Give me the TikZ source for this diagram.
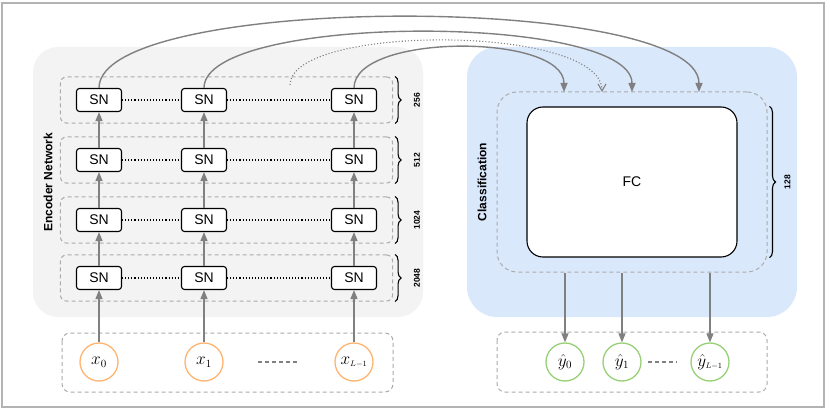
\documentclass[tikz,border=0pt]{standalone}
\usepackage{fontspec}
\setmainfont{Liberation Sans}
\usetikzlibrary{arrows.meta,decorations.pathreplacing,fit,positioning}

\definecolor{encgray}{HTML}{F3F3F3}
\definecolor{clsblue}{HTML}{DAE8FC}
\definecolor{xorange}{HTML}{FFB570}
\definecolor{ygreen}{HTML}{97D077}
\definecolor{dashgray}{HTML}{ABABAB}
\definecolor{arrgray}{HTML}{808080}
\definecolor{framegray}{HTML}{B3B3B3}

\tikzset{
    sn/.style={draw, line width=1.1pt, rounded corners=3pt, fill=white,
        minimum width=45pt, minimum height=23pt, inner sep=0pt,
        font=\fontsize{14}{16}\selectfont},
    fcbox/.style={draw, line width=1.1pt, rounded corners=16pt, fill=white,
        minimum width=210pt, minimum height=150pt,
        font=\fontsize{14}{16}\selectfont},
    layerbox/.style={draw=dashgray, line width=1pt, dash pattern=on 4pt off 3pt,
        rounded corners=6pt},
    xnode/.style={circle, draw=xorange, line width=1.3pt, fill=white,
        minimum size=38pt, inner sep=0pt, font=\fontsize{16}{18}\selectfont},
    ynode/.style={circle, draw=ygreen, line width=1.3pt, fill=white,
        minimum size=38pt, inner sep=0pt, font=\fontsize{16}{18}\selectfont},
    flow/.style={draw=arrgray, line width=1.4pt, -{Triangle[length=9pt,width=7pt]}},
    link/.style={line width=1.1pt, dotted},
    gap/.style={draw=arrgray, line width=1.2pt, dash pattern=on 4pt off 3pt},
    sizebrace/.style={decorate, decoration={brace, amplitude=6pt}, line width=1.1pt},
    sizelabel/.style={rotate=90, font=\fontsize{8.5}{10}\bfseries\selectfont},
    grouplabel/.style={rotate=90, font=\fontsize{12}{14}\bfseries\selectfont},
}

\begin{document}
\begin{tikzpicture}[x=1pt, y=-1pt]
    \useasboundingbox (0,0) rectangle (830,409);
    \draw[framegray, line width=1.5pt] (2,3) rectangle (824,407);

    % group backgrounds
    \fill[encgray, rounded corners=25pt] (33,47) rectangle (423,317);
    \fill[clsblue, rounded corners=30pt] (467,47) rectangle (797,317);
    \node[grouplabel] (enclabel) at (48,182) {Encoder Network};
    \node[grouplabel] (clslabel) at (482,182) {Classification};

    % encoder layers
    \foreach \Y/\U [count=\r] in {100/256,160/512,220/1024,278/2048}
    {\foreach \X/\c in {99/a,204/b,354/c}
        \node[sn] (sn\r\c) at (\X,\Y) {SN};
    \draw[link] (sn\r a) -- (sn\r b);
    \draw[link] (sn\r b) -- (sn\r c);
    \node[layerbox, fit=(sn\r a)(sn\r c), inner xsep=15.5pt, inner ysep=11pt] (layer\r) {};
    \draw[sizebrace] ([xshift=2pt]layer\r.north east) -- ([xshift=2pt]layer\r.south east);
    \node[sizelabel] at ([xshift=24pt]layer\r.east) {\U}; }

    \foreach \c in {a,b,c}
    {\draw[flow] (sn2\c) -- (sn1\c);
    \draw[flow] (sn3\c) -- (sn2\c);
    \draw[flow] (sn4\c) -- (sn3\c); }

    % inputs
    \draw[layerbox, rounded corners=8pt] (62,333) rectangle (393,392);
    \node[xnode] (x0) at (99,362) {$x_0$};
    \node[xnode] (x1) at (204,362) {$x_1$};
    \node[xnode] (xL) at (354,362) {$x_{\scriptscriptstyle L-1}$};
    \draw[gap] (258,362) -- (298,362);
    \draw[flow] (x0) -- (sn4a);
    \draw[flow] (x1) -- (sn4b);
    \draw[flow] (xL) -- (sn4c);

    % classification
    \node[layerbox, rounded corners=20pt, minimum width=270pt, minimum height=180pt] (clsbox) at (632,182) {};
    \node[fcbox] (fc) at (632,182) {FC};
    \draw[sizebrace] ([xshift=2pt]clsbox.east |- fc.north) -- ([xshift=2pt]clsbox.east |- fc.south);
    \node[sizelabel] at ([xshift=20pt]clsbox.east) {128};

    % skip connections
    \coordinate (tail) at (290,85);
    \coordinate (in0) at (564,92);
    \coordinate (in1) at (602,92);
    \coordinate (in2) at (632,92);
    \coordinate (in3) at (699,92);
    \draw[flow] (sn1a.north) .. controls (99,-7) and (699,-7) .. (in3);
    \draw[flow] (sn1b.north) .. controls (204,13) and (632,13) .. (in2);
    \draw[draw=arrgray, line width=1.1pt, dotted, -{Straight Barb[length=7pt,width=8pt]}] (tail) .. controls (290,24) and (602,24) .. (in1);
    \draw[flow] (sn1c.north) .. controls (354,33) and (564,33) .. (in0);

    % outputs
    \draw[layerbox, rounded corners=8pt] (497,332) rectangle (767,392);
    \node[ynode] (y0) at (565,362) {$\hat{y}_0$};
    \node[ynode] (y1) at (622,362) {$\hat{y}_1$};
    \node[ynode] (yL) at (710,362) {$\hat{y}_{\scriptscriptstyle L-1}$};
    \draw[gap] (648,362) -- (677,362);
    \draw[flow] (clsbox.south -| y0) -- (y0);
    \draw[flow] (clsbox.south -| y1) -- (y1);
    \draw[flow] (clsbox.south -| yL) -- (yL);
\end{tikzpicture}
\end{document}
